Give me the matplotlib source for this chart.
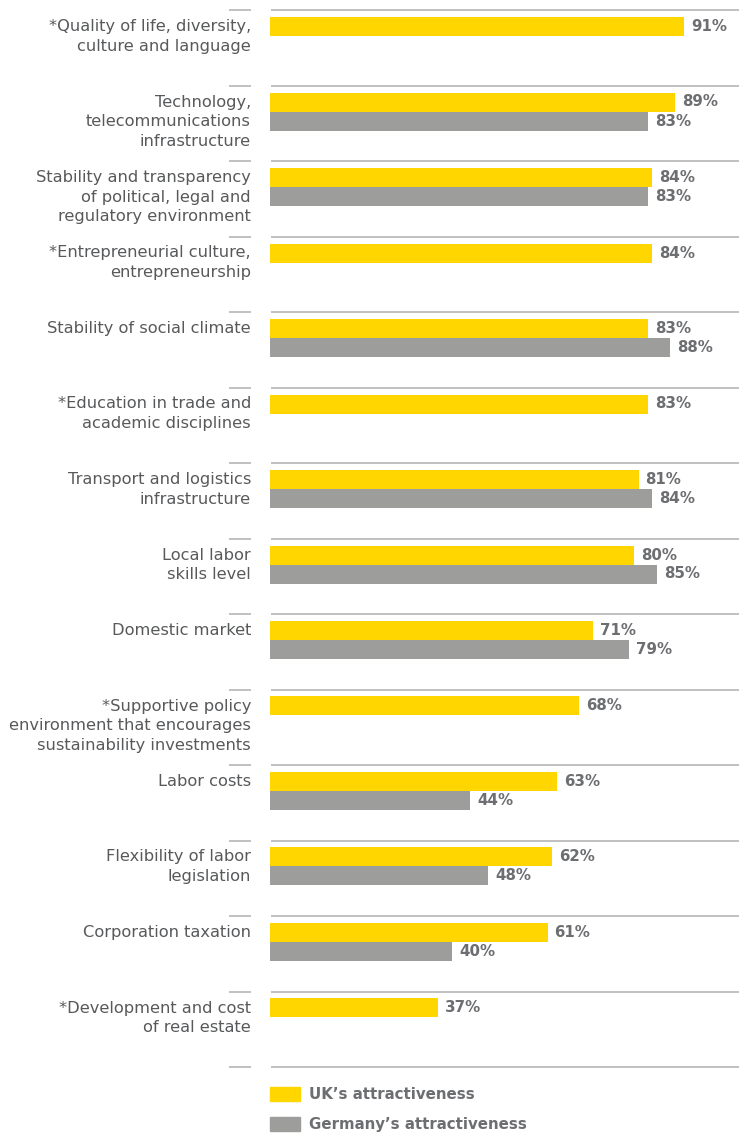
import matplotlib.pyplot as plt
from matplotlib.patches import Patch

plt.rcParams["font.family"] = ["DejaVu Sans"]

factors = [
    "*Quality of life, diversity,\nculture and language",
    "Technology,\ntelecommunications\ninfrastructure",
    "Stability and transparency\nof political, legal and\nregulatory environment",
    "*Entrepreneurial culture,\nentrepreneurship",
    "Stability of social climate",
    "*Education in trade and\nacademic disciplines",
    "Transport and logistics\ninfrastructure",
    "Local labor\nskills level",
    "Domestic market",
    "*Supportive policy\nenvironment that encourages\nsustainability investments",
    "Labor costs",
    "Flexibility of labor\nlegislation",
    "Corporation taxation",
    "*Development and cost\nof real estate",
]
uk = [91, 89, 84, 84, 83, 83, 81, 80, 71, 68, 63, 62, 61, 37]
germany = [None, 83, 83, None, 88, None, 84, 85, 79, None, 44, 48, 40, None]

YELLOW = "#ffd600"
GREY = "#9d9d9c"
TEXT = "#58595b"
VALUE = "#6d6e71"
RULE = "#b5b5b5"

fig = plt.figure(figsize=(7.39, 11.33), dpi=100)
ax = fig.add_axes([0, 0, 1, 1])
px = 4.55  # pixels per percentage point
ax.set_xlim(-270 / px, (739 - 270) / px)
step = 75.5
ax.set_ylim((1133 - 10) / step, -10 / step)
ax.axis("off")

h = 19 / step
for i, (name, u, g) in enumerate(zip(factors, uk, germany)):
    # group separators: short one under the label, long one over the bars
    ax.plot([-41 / px, -19 / px], [i, i], color=RULE, lw=1.2, solid_capstyle="butt")
    ax.plot([1 / px, 469 / px], [i, i], color=RULE, lw=1.2, solid_capstyle="butt")
    yu = i + 7 / step + h / 2
    ax.barh(yu, u, height=h, color=YELLOW)
    ax.text(u + 7 / px, yu, f"{u}%", va="center", ha="left",
            fontsize=10.8, fontweight="bold", color=VALUE)
    if g is not None:
        yg = yu + h
        ax.barh(yg, g, height=h, color=GREY)
        ax.text(g + 7 / px, yg, f"{g}%", va="center", ha="left",
                fontsize=10.8, fontweight="bold", color=VALUE)
    ax.text(-19 / px, i + 9 / step, name, ha="right", va="top",
            fontsize=11.7, color=TEXT, linespacing=1.38)

n = len(factors)
ax.plot([-41 / px, -19 / px], [n, n], color=RULE, lw=1.2, solid_capstyle="butt")
ax.plot([1 / px, 469 / px], [n, n], color=RULE, lw=1.2, solid_capstyle="butt")

handles = [Patch(color=YELLOW), Patch(color=GREY)]
leg = ax.legend(handles, ["UK\u2019s attractiveness", "Germany\u2019s attractiveness"],
                loc="upper left", bbox_to_anchor=(270 / 739, 1 - 1087 / 1133),
                bbox_transform=fig.transFigure, frameon=False, borderpad=0,
                borderaxespad=0, fontsize=10.8, handlelength=2.0, handleheight=1.0,
                handletextpad=0.6, labelspacing=1.0)
for t in leg.get_texts():
    t.set_color(VALUE)
    t.set_fontweight("bold")

fig.savefig("out.png", dpi=100)
